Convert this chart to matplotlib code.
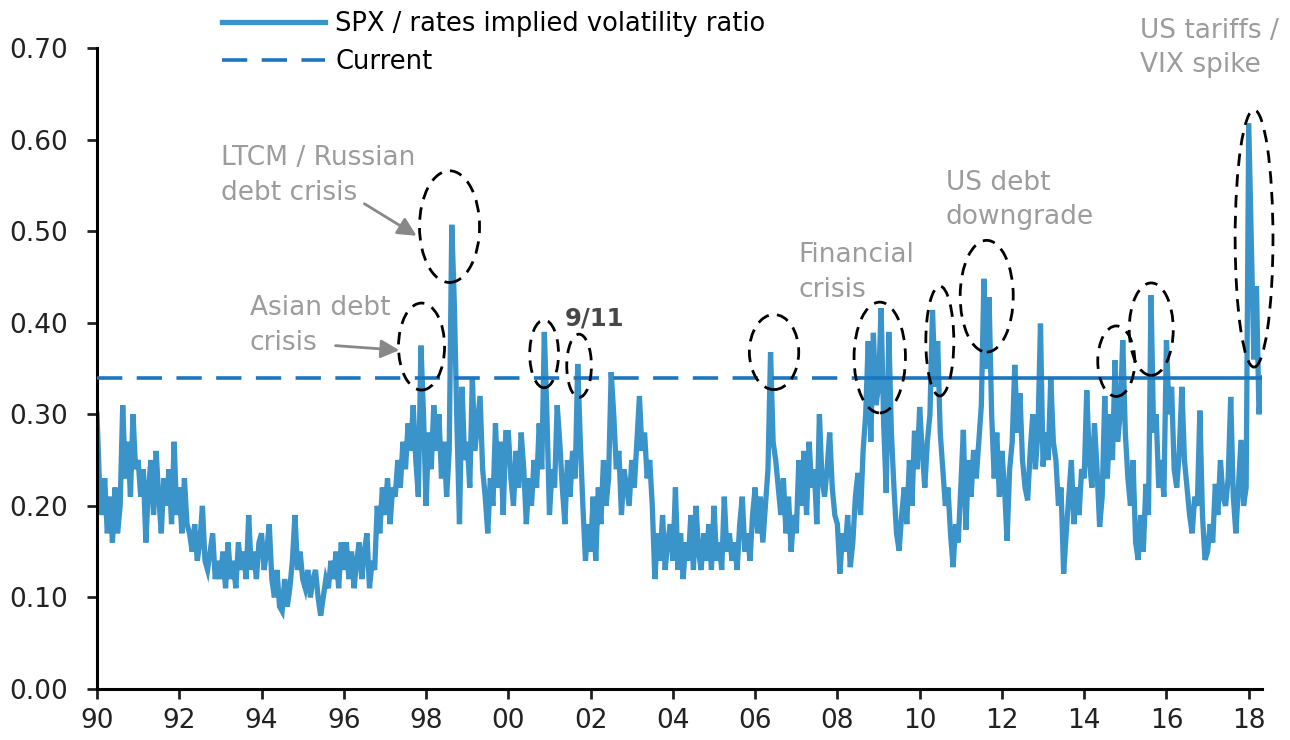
import numpy as np
import matplotlib
matplotlib.use("Agg")
import matplotlib.pyplot as plt
from matplotlib.patches import Ellipse

plt.rcParams['font.family'] = ['DejaVu Sans']

# SPX / rates implied vol ratio, 16 readings per year starting Jan 1990
ratio_1990s = [
    0.30, 0.22, 0.19, 0.23, 0.17, 0.21, 0.16, 0.22, 0.17, 0.20, 0.31, 0.23, 0.27, 0.21, 0.30, 0.24,
    0.25, 0.21, 0.24, 0.16, 0.22, 0.25, 0.19, 0.26, 0.21, 0.17, 0.23, 0.20, 0.24, 0.18, 0.27, 0.19,
    0.22, 0.17, 0.23, 0.18, 0.17, 0.15, 0.18, 0.14, 0.16, 0.20, 0.14, 0.13, 0.15, 0.17, 0.12, 0.14,
    0.12, 0.15, 0.11, 0.16, 0.12, 0.14, 0.11, 0.16, 0.13, 0.15, 0.12, 0.19, 0.13, 0.15, 0.12, 0.16,
    0.17, 0.13, 0.15, 0.18, 0.12, 0.10, 0.13, 0.09, 0.085, 0.12, 0.09, 0.11, 0.14, 0.19, 0.13, 0.15,
    0.12, 0.11, 0.13, 0.10, 0.12, 0.13, 0.10, 0.08, 0.10, 0.12, 0.11, 0.14, 0.12, 0.15, 0.11, 0.16,
    0.13, 0.16, 0.12, 0.15, 0.11, 0.14, 0.16, 0.12, 0.15, 0.17, 0.11, 0.14, 0.13, 0.20, 0.17, 0.22,
    0.19, 0.23, 0.18, 0.22, 0.21, 0.25, 0.22, 0.27, 0.24, 0.29, 0.26, 0.31, 0.25, 0.21, 0.375, 0.30,
    0.20, 0.28, 0.24, 0.31, 0.26, 0.30, 0.23, 0.27, 0.21, 0.26, 0.507, 0.42, 0.29, 0.18, 0.33, 0.25,
    0.27, 0.22, 0.34, 0.26, 0.29, 0.32, 0.24, 0.21, 0.17, 0.23, 0.20, 0.29, 0.22, 0.27, 0.19, 0.28,
]
ratio_2000s = [
    0.28, 0.23, 0.20, 0.26, 0.22, 0.28, 0.24, 0.18, 0.23, 0.20, 0.25, 0.22, 0.29, 0.24, 0.39, 0.30,
    0.19, 0.24, 0.22, 0.31, 0.27, 0.22, 0.18, 0.25, 0.21, 0.26, 0.23, 0.355, 0.27, 0.20, 0.14, 0.18,
    0.15, 0.21, 0.14, 0.22, 0.18, 0.25, 0.20, 0.23, 0.346, 0.30, 0.24, 0.26, 0.19, 0.24, 0.22, 0.20,
    0.25, 0.22, 0.27, 0.32, 0.26, 0.28, 0.23, 0.25, 0.20, 0.12, 0.17, 0.14, 0.19, 0.13, 0.16, 0.18,
    0.14, 0.22, 0.13, 0.17, 0.12, 0.16, 0.14, 0.19, 0.13, 0.20, 0.15, 0.13, 0.17, 0.14, 0.18, 0.13,
    0.20, 0.14, 0.16, 0.13, 0.21, 0.15, 0.17, 0.14, 0.16, 0.13, 0.18, 0.21, 0.15, 0.17, 0.14, 0.19,
    0.22, 0.17, 0.21, 0.16, 0.20, 0.24, 0.368, 0.27, 0.25, 0.22, 0.19, 0.23, 0.17, 0.21, 0.15, 0.19,
    0.17, 0.25, 0.20, 0.26, 0.19, 0.27, 0.22, 0.24, 0.18, 0.30, 0.23, 0.21, 0.24, 0.28, 0.22, 0.19,
    0.18, 0.126, 0.17, 0.15, 0.19, 0.133, 0.16, 0.21, 0.236, 0.19, 0.26, 0.30, 0.38, 0.27, 0.389, 0.31,
    0.33, 0.416, 0.29, 0.214, 0.39, 0.28, 0.22, 0.17, 0.151, 0.19, 0.22, 0.18, 0.25, 0.20, 0.282, 0.24,
]
ratio_2010s = [
    0.308, 0.26, 0.22, 0.27, 0.30, 0.414, 0.33, 0.38, 0.28, 0.24, 0.20, 0.22, 0.17, 0.133, 0.18, 0.16,
    0.22, 0.283, 0.174, 0.25, 0.21, 0.261, 0.23, 0.27, 0.31, 0.448, 0.35, 0.428, 0.30, 0.23, 0.28, 0.210,
    0.26, 0.22, 0.162, 0.24, 0.27, 0.354, 0.28, 0.323, 0.25, 0.22, 0.206, 0.26, 0.30, 0.24, 0.28, 0.399,
    0.243, 0.28, 0.25, 0.34, 0.27, 0.25, 0.20, 0.22, 0.126, 0.17, 0.21, 0.25, 0.18, 0.22, 0.19, 0.24,
    0.23, 0.326, 0.25, 0.22, 0.29, 0.24, 0.177, 0.21, 0.32, 0.23, 0.30, 0.25, 0.359, 0.27, 0.30, 0.381,
    0.28, 0.23, 0.20, 0.25, 0.16, 0.141, 0.19, 0.15, 0.224, 0.19, 0.430, 0.28, 0.30, 0.22, 0.25, 0.21,
    0.381, 0.30, 0.33, 0.24, 0.22, 0.26, 0.330, 0.25, 0.22, 0.19, 0.17, 0.21, 0.20, 0.304, 0.19, 0.141,
    0.15, 0.18, 0.16, 0.224, 0.19, 0.25, 0.21, 0.20, 0.23, 0.319, 0.21, 0.170, 0.22, 0.272, 0.20, 0.22,
    0.618, 0.49, 0.36, 0.44, 0.30, 0.34,
]
current = 0.34
start_year = 1990
per_year = 16

# dashed circles round the spikes: (centre year, centre value, width yrs, height)
circles = [
    (1997.89, 0.374, 1.12, 0.095),
    (1998.57, 0.505, 1.46, 0.122),
    (2000.87, 0.366, 0.70, 0.074),
    (2001.72, 0.353, 0.60, 0.069),
    (2006.46, 0.368, 1.20, 0.082),
    (2009.03, 0.362, 1.25, 0.121),
    (2010.49, 0.380, 0.68, 0.120),
    (2011.63, 0.429, 1.29, 0.122),
    (2014.78, 0.358, 0.90, 0.077),
    (2015.63, 0.393, 1.07, 0.101),
    (2018.13, 0.492, 0.92, 0.281),
]

ratio = np.array(ratio_1990s + ratio_2000s + ratio_2010s)
years = start_year + np.arange(len(ratio)) / per_year

blue = '#3a93c9'
dark_blue = '#1b76c2'
grey = '#9c9c9c'

fig = plt.figure(figsize=(12.9, 7.4), dpi=100)
ax = fig.add_axes([0.0752, 0.069, 0.903, 0.866])

ax.plot(years, ratio, color=blue, lw=3.8, solid_joinstyle='miter',
        label='SPX / rates implied volatility ratio', zorder=2)
ax.plot([start_year, 2008.55], [current, current], color=dark_blue, lw=2.6,
        dashes=(7, 4), label='Current', zorder=3)
ax.plot([2008.55, years[-1]], [current, current], color=dark_blue, lw=2.6, zorder=3)

for cx, cy, w, h in circles:
    ax.add_patch(Ellipse((cx, cy), w, h, fill=False, ec='black', lw=2.0,
                         ls=(0, (4.5, 3)), zorder=4, clip_on=False))

tf = dict(color=grey, fontsize=19, linespacing=1.42, va='center', ha='left')
ax.text(1993.01, 0.561, 'LTCM / Russian\ndebt crisis', **tf)
ax.text(1993.71, 0.397, 'Asian debt\ncrisis', **tf)
ax.text(2007.06, 0.455, 'Financial\ncrisis', **tf)
ax.text(2010.63, 0.534, 'US debt\ndowngrade', **tf)
ax.text(2015.36, 0.700, 'US tariffs /\nVIX spike', **tf)
ax.text(2001.38, 0.405, '9/11', color='#474747', fontsize=17.5, fontweight='bold',
        va='center', ha='left')

ap = dict(arrowstyle='-|>', color='#888888', lw=2, mutation_scale=28, shrinkA=0, shrinkB=0)
ax.annotate('', xy=(1997.77, 0.495), xytext=(1996.5, 0.530), arrowprops=ap)
ax.annotate('', xy=(1997.35, 0.370), xytext=(1995.8, 0.375), arrowprops=ap)

ax.set_xlim(start_year, 2018.32)
ax.set_ylim(0, 0.70)
ax.set_yticks(np.arange(0, 0.71, 0.1))
ax.set_yticklabels(['%.2f' % v for v in np.arange(0, 0.71, 0.1)])
xt = np.arange(1990, 2019, 2)
ax.set_xticks(xt)
ax.set_xticklabels(['%02d' % (y % 100) for y in xt])
ax.tick_params(labelsize=19, colors='#222222', width=2, length=7)
ax.tick_params(axis='y', pad=14)
ax.tick_params(axis='x', pad=7)
for s in ['top', 'right']:
    ax.spines[s].set_visible(False)
for s in ['left', 'bottom']:
    ax.spines[s].set_linewidth(2.2)

ax.legend(loc='upper left', bbox_to_anchor=(222 / 1290, 1 - 11 / 740),
          bbox_transform=fig.transFigure, frameon=False, fontsize=18.5,
          handlelength=4.0, handletextpad=0.4, labelspacing=0.45,
          borderpad=0, borderaxespad=0)

fig.savefig('out.png', dpi=100)
